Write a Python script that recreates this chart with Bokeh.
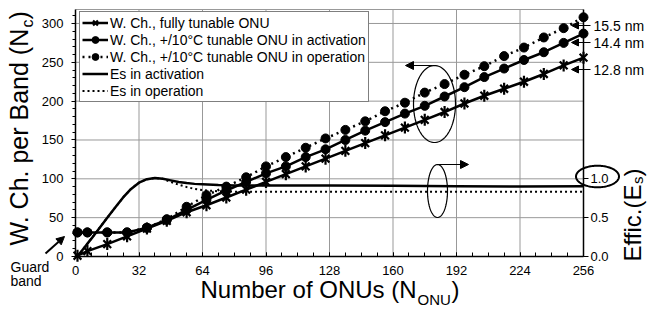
import numpy as np
from bokeh.plotting import figure
from bokeh.models import (Range1d, LinearAxis, FixedTicker, NumeralTickFormatter,
                          Legend, LegendItem, Label, Arrow, NormalHead, PolyAnnotation)
from bokeh.embed import file_html
from bokeh.resources import INLINE

# ---------------- data ----------------
n_onu = [1, 6, 16, 26, 36, 46, 56, 66, 76, 86, 96, 106, 116, 126, 136, 146,
         156, 166, 176, 186, 196, 206, 216, 226, 236, 246, 256]
nc_full = [1, 7, 16, 26, 36, 46, 57, 66, 76, 86, 96, 106, 116, 126, 136, 146,
           156, 166, 176, 186, 197, 207, 216, 225, 235, 246, 256]
nc_act = [31, 31, 31, 31, 37, 47, 60, 73, 85, 96, 107, 116, 128, 138, 150, 162,
          173, 184, 194, 206, 218, 231, 242, 253, 263, 275, 287]
nc_op = [31, 31, 31, 31, 37, 48, 64, 79, 90, 102, 116, 128, 140, 152, 163, 174,
         187, 198, 211, 222, 234, 245, 258, 269, 282, 294, 308]

es_x = [1, 4, 8, 12, 16, 20, 24, 28, 32, 36, 40, 44, 48, 52, 56, 60, 64, 72, 80,
        96, 128, 160, 192, 224, 256]
es_act = [0.0, 0.10, 0.23, 0.365, 0.50, 0.63, 0.76, 0.87, 0.95, 0.995, 1.01, 1.0,
          0.98, 0.96, 0.945, 0.935, 0.93, 0.92, 0.915, 0.915, 0.915, 0.91, 0.905,
          0.90, 0.905]
es_op = [0.0, 0.10, 0.23, 0.365, 0.50, 0.63, 0.76, 0.87, 0.95, 0.995, 1.01, 1.0,
         0.96, 0.925, 0.895, 0.87, 0.855, 0.84, 0.835, 0.835, 0.835, 0.835, 0.835,
         0.835, 0.835]

x_ticks = [0, 32, 64, 96, 128, 160, 192, 224, 256]
x_minor = list(range(0, 257, 8))
y_ticks = [0, 50, 100, 150, 200, 250, 300]
y_minor = list(range(0, 319, 10))
e_ticks = [0.0, 0.5, 1.0]

labels = ["W. Ch., fully tunable ONU",
          "W. Ch., +/10°C tunable ONU in activation",
          "W. Ch., +/10°C tunable ONU in operation",
          "Es in activation",
          "Es in operation"]
nm_labels = ["15.5 nm", "14.4 nm", "12.8 nm"]

# ---------------- layout ----------------
W, H = 650, 309
XMAX, YTOP = 256, 318
PX0, PX1 = 75, 583      # canvas x of x=0 and x=XMAX
PY0, PY1 = 256, 9       # canvas y of y=0 and y=YTOP
SX = (PX1 - PX0) / XMAX
SY = (PY0 - PY1) / YTOP
X_START, X_END = -PX0 / SX, XMAX + (W - PX1) / SX
Y_START, Y_END = -(H - PY0) / SY, YTOP + PY1 / SY
FONT = "Liberation Sans"
GRID = "#999999"


def dx(px):
    return (px - PX0) / SX


def dy(py):
    return (PY0 - py) / SY


p = figure(width=W, height=H, x_range=Range1d(X_START, X_END),
           y_range=Range1d(Y_START, Y_END), output_backend="svg",
           toolbar_location=None, title=None, x_axis_location=None,
           y_axis_location=None, min_border=0)
p.extra_y_ranges = {"eff": Range1d(Y_START / 100.0, Y_END / 100.0)}
p.outline_line_color = None
p.xgrid.visible = False
p.ygrid.visible = False

xa = LinearAxis(fixed_location=0, bounds=(0, XMAX),
                ticker=FixedTicker(ticks=x_ticks, minor_ticks=x_minor))
ya = LinearAxis(fixed_location=0, bounds=(0, YTOP),
                ticker=FixedTicker(ticks=y_ticks, minor_ticks=y_minor))
ra = LinearAxis(fixed_location=XMAX, y_range_name="eff", bounds=(0, YTOP / 100.0),
                ticker=FixedTicker(ticks=e_ticks, minor_ticks=[]),
                formatter=NumeralTickFormatter(format="0.0"))
p.add_layout(xa, "below")
p.add_layout(ya, "left")
p.add_layout(ra, "right")

for ax in (xa, ya, ra):
    ax.axis_line_color = "black"
    ax.axis_line_width = 1.5
    ax.major_tick_line_color = "black"
    ax.minor_tick_line_color = "black"
    ax.major_label_text_font = FONT
    ax.major_label_text_font_size = "13px"
    ax.major_label_text_color = "black"

xa.major_tick_in, xa.major_tick_out = 4, 0
xa.minor_tick_in, xa.minor_tick_out = 4, 0
xa.major_label_standoff = 9
ya.major_tick_in, ya.major_tick_out = 0, 4
ya.minor_tick_in, ya.minor_tick_out = 0, 3
ya.major_label_standoff = 8
ra.major_tick_in, ra.major_tick_out = 0, 5
ra.major_label_standoff = 2

# grid lines and top border
gx = x_ticks[1:-1]
p.segment(x0=gx, y0=[0] * len(gx), x1=gx, y1=[YTOP] * len(gx),
          line_color=GRID, line_width=1, level="underlay")
gy = y_ticks[1:]
p.segment(x0=[0] * len(gy), y0=gy, x1=[XMAX] * len(gy), y1=gy,
          line_color=GRID, line_width=1, level="underlay")
p.segment(x0=[0], y0=[YTOP], x1=[XMAX], y1=[YTOP], line_color=GRID, line_width=1,
          level="underlay")

# ---------------- series ----------------
es_a = p.line(es_x, es_act, y_range_name="eff", line_color="black", line_width=2.5)
es_o = p.line(es_x, es_op, y_range_name="eff", line_color="black", line_width=2,
              line_dash="2 3")

l_full = p.line(n_onu, nc_full, line_color="black", line_width=2.5)
l_act = p.line(n_onu, nc_act, line_color="black", line_width=2.5)
l_op = p.line(n_onu, nc_op, line_color="black", line_width=2.5, line_dash="2 4")

m_full_x = p.scatter(n_onu, nc_full, marker="x", size=11, line_width=2.2,
                     line_color="black")
m_full_d = p.scatter(n_onu, nc_full, marker="dash", angle=np.pi / 2, size=12,
                     line_width=2.2, line_color="black")
m_act = p.scatter(n_onu, nc_act, marker="circle", size=9, line_color="black",
                  fill_color="black")
m_op = p.scatter(n_onu, nc_op, marker="circle", size=9, line_color="black",
                 fill_color="black")

LEG_H = 5 * 17 + 2 * 2
legend = Legend(items=[
    LegendItem(label=labels[0], renderers=[l_full, m_full_x, m_full_d]),
    LegendItem(label=labels[1], renderers=[l_act, m_act]),
    LegendItem(label=labels[2], renderers=[l_op, m_op]),
    LegendItem(label=labels[3], renderers=[es_a]),
    LegendItem(label=labels[4], renderers=[es_o]),
], location=(79, H - 13 - LEG_H), margin=0, padding=2, spacing=0, glyph_width=26,
    glyph_height=17, label_height=17, label_standoff=2,
    label_text_font=FONT, label_text_font_size="14px", label_text_color="black",
    border_line_color="black", border_line_width=1, background_fill_color="white",
    background_fill_alpha=1)
p.add_layout(legend)

# ---------------- annotations ----------------
def ellipse(cx, cy, w, h, lw):
    t = np.linspace(0, 2 * np.pi, 97)
    xs = [dx(cx + w / 2 * np.cos(a)) for a in t]
    ys = [dy(cy + h / 2 * np.sin(a)) for a in t]
    p.add_layout(PolyAnnotation(xs=xs, ys=ys, fill_alpha=0, line_color="black",
                                line_alpha=1, line_width=lw))


def arrow(x0, y0, x1, y1, lw=1.2, hs=8):
    p.add_layout(Arrow(x_start=dx(x0), y_start=dy(y0), x_end=dx(x1), y_end=dy(y1),
                       line_color="black", line_width=lw,
                       end=NormalHead(size=hs, fill_color="black", line_color="black",
                                      line_width=1)))


def label(px, py, text, size="14px", align="left", angle=0.0):
    p.add_layout(Label(x=dx(px), y=dy(py), text=text, text_font=FONT,
                       text_font_size=size, text_color="black", text_align=align,
                       text_baseline="middle", angle=angle))


ellipse(434, 103.5, 42, 77, 1.2)
arrow(432, 65, 405, 65)
ellipse(437, 190.5, 20, 53, 1.2)
arrow(437, 164, 468, 164)
ellipse(597, 176, 43, 21.5, 2)

for txt, py in zip(nm_labels, [25, 42, 69]):
    arrow(590, py, 571, py, lw=1.2, hs=7)
    label(593, py, txt)

label(10, 266, "Guard")
label(10, 280, "band")
arrow(45, 253, 64, 236, lw=2, hs=8)

# axis titles (with subscripts); positions are vertical centres of the text
label(200, 289, "Number of ONUs (N", size="24px")
label(417, 298.5, "ONU", size="15px")
label(451, 289, ")", size="24px")

label(18.5, 245, "W. Ch. per Band (N", size="25px", angle=np.pi / 2)
label(26.5, 27, "c", size="16px", angle=np.pi / 2)
label(18.5, 19, ")", size="25px", angle=np.pi / 2)

label(631.5, 261, "Effic.(E", size="24px", angle=np.pi / 2)
label(637, 183.5, "s", size="15px", angle=np.pi / 2)
label(631.5, 176, ")", size="24px", angle=np.pi / 2)

open("out.html", "w").write(file_html(p, INLINE))
